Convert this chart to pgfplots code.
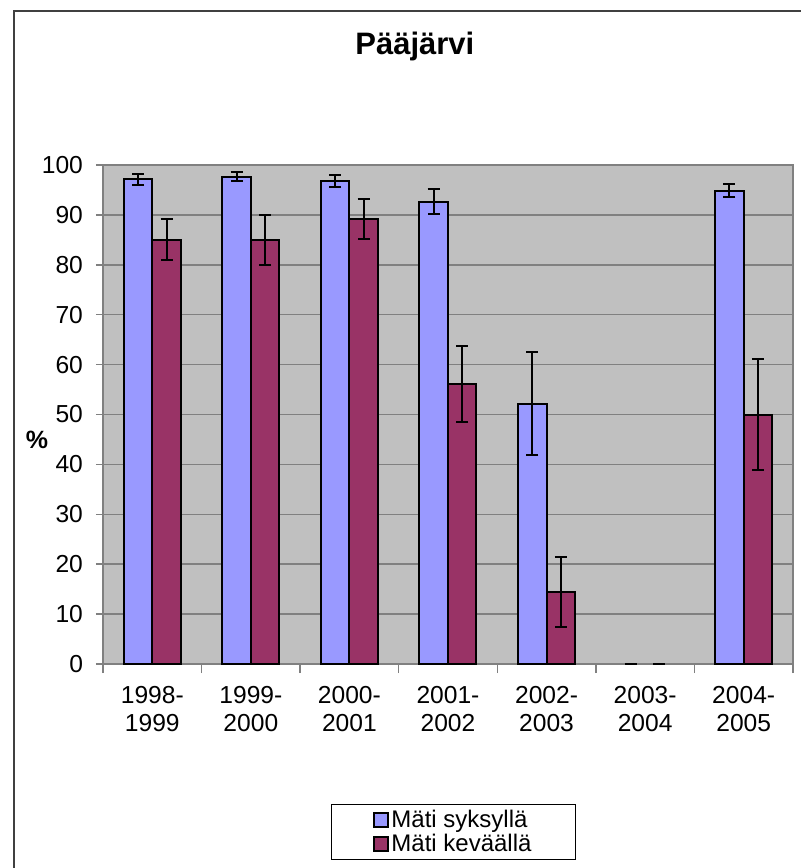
\documentclass[border=0pt]{standalone}
\usepackage{pgfplots}
\pgfplotsset{compat=1.18}
\usepackage{fontspec}
\setmainfont{Liberation Sans}
\definecolor{syksy}{RGB}{153,153,255}
\definecolor{kevat}{RGB}{153,51,102}
\definecolor{plotbg}{RGB}{192,192,192}
\definecolor{gridgray}{RGB}{128,128,128}

\pgfplotsset{
  barstyle/.style={draw=black, line width=1pt,
    error bars/y dir=both, error bars/y explicit,
    error bars/error bar style={line width=1pt, draw=black},
    error bars/error mark options={rotate=90, line width=1pt, draw=black, mark size=3pt}},
}

\begin{document}
\begin{tikzpicture}
\useasboundingbox (0,0) rectangle (400pt,-434pt);
\draw[line width=1pt, black!75] (7pt,-445pt) -- (7pt,-5.5pt) -- (410pt,-5.5pt);
\begin{axis}[
  at={(51.5pt,-332pt)}, anchor=south west,
  scale only axis, width=345pt, height=249.5pt,
  ybar, bar width=14.25pt,
  xmin=-0.5, xmax=6.5, ymin=0, ymax=100,
  axis background/.style={fill=plotbg},
  axis line style={gridgray, line width=0.75pt},
  ymajorgrids, grid style={gridgray, line width=0.75pt},
  ytick={0,10,...,100},
  xtick={0,...,6},
  xticklabels={1998-\\1999, 1999-\\2000, 2000-\\2001, 2001-\\2002, 2002-\\2003, 2003-\\2004, 2004-\\2005},
  minor xtick={-0.5,0.5,...,6.5},
  tick align=outside, tick pos=left,
  major tick length=3.5pt, minor tick length=4.5pt,
  major x tick style={draw=none},
  minor x tick style={gridgray, line width=0.75pt},
  major y tick style={gridgray, line width=0.75pt},
  xticklabel style={align=center, font=\fontsize{12.3}{14.25}\selectfont, yshift=-4pt},
  yticklabel style={font=\fontsize{12.3}{14}\selectfont, xshift=-3pt},
  /pgf/number format/assume math mode=true,
  title={Pääjärvi},
  title style={at={(axis description cs:0.452,1.198)}, anchor=base, font=\fontsize{15.5}{18}\selectfont\bfseries},
  ylabel={\%},
  ylabel style={rotate=-90, at={(axis description cs:-0.0957,0.449)}, anchor=center, font=\fontsize{12.5}{14}\selectfont\bfseries},
  legend style={at={(axis description cs:0.508,-0.337)}, anchor=center, draw=black, line width=0.5pt,
    inner xsep=21pt, inner ysep=1.5pt, font=\fontsize{12}{12.5}\selectfont, row sep=0pt,
    nodes={inner sep=1pt}},
  legend cell align=left,
  legend image code/.code={\draw[#1, line width=1pt] (0pt,-3.5pt) rectangle (7pt,3.5pt);},
]
\addplot[barstyle, fill=syksy, bar shift=-7.125pt] coordinates {
  (0,97.1) +- (0,1.1)
  (1,97.6) +- (0,0.9)
  (2,96.7) +- (0,1.2)
  (3,92.6) +- (0,2.5)
  (4,52.2) +- (0,10.3)
  (6,94.8) +- (0,1.3)
};
\addlegendentry{Mäti syksyllä}
\addplot[barstyle, fill=kevat, bar shift=7.125pt] coordinates {
  (0,85.0) +- (0,4.1)
  (1,84.9) +- (0,5.0)
  (2,89.2) +- (0,4.0)
  (3,56.1) +- (0,7.7)
  (4,14.5) +- (0,7.0)
  (6,50.0) +- (0,11.1)
};
\addlegendentry{Mäti keväällä}
% 2003-2004: no bars, only the error caps at zero
\addplot[barstyle, forget plot, draw=none, fill=none, bar shift=-7.125pt] coordinates {(5,0) +- (0,0)};
\addplot[barstyle, forget plot, draw=none, fill=none, bar shift=7.125pt] coordinates {(5,0) +- (0,0)};
\end{axis}
\end{tikzpicture}
\end{document}
